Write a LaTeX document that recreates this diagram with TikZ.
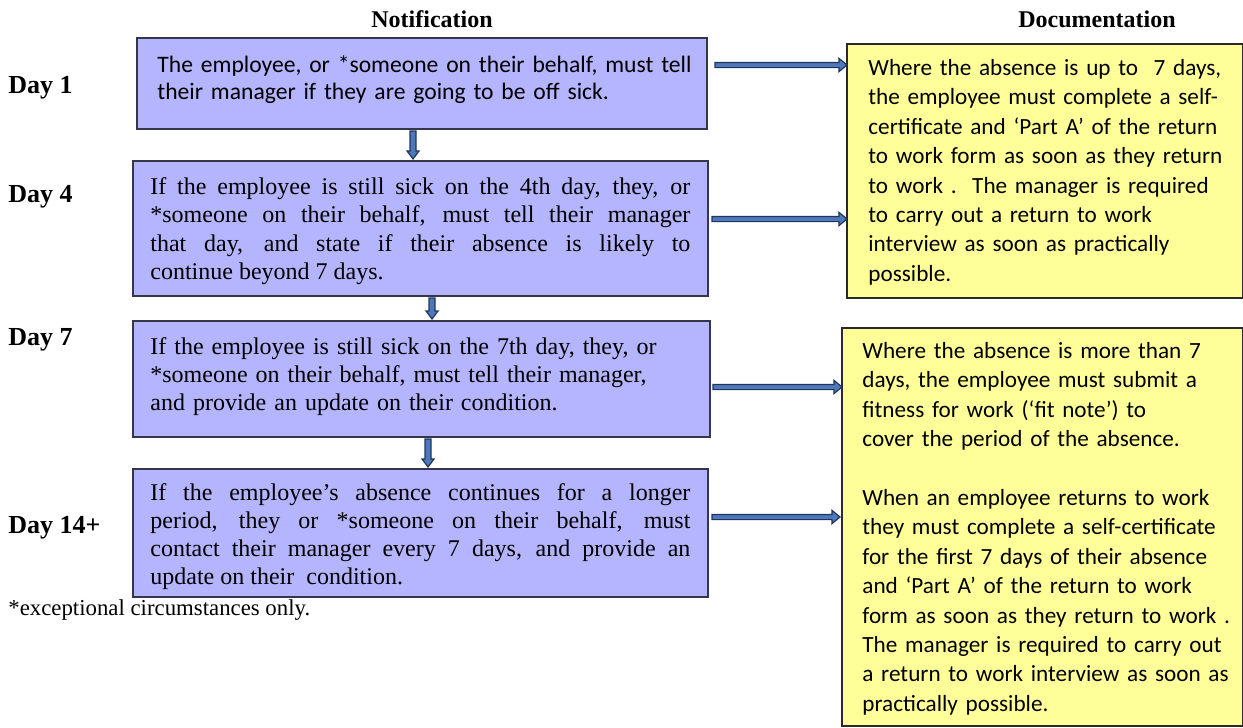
\documentclass[tikz,border=0pt]{standalone}
\usepackage{fontspec}
\setmainfont{Liberation Serif}
\newfontfamily\calibri{Carlito}
\usetikzlibrary{calc}

\definecolor{notefill}{HTML}{B4B4FF}
\definecolor{noteline}{HTML}{34364A}
\definecolor{docfill}{HTML}{FFFF99}
\definecolor{docline}{HTML}{2A2A2A}
\definecolor{arrowfill}{HTML}{4F78B8}
\definecolor{arrowline}{HTML}{1F3560}

\tikzset{
  notebox/.style={draw=noteline, line width=0.8pt, fill=notefill, anchor=north west,
    inner sep=0pt, outer sep=0pt},
  docbox/.style={draw=docline, line width=0.8pt, fill=docfill, anchor=north west,
    inner sep=0pt, outer sep=0pt},
  daylabel/.style={anchor=west, font=\fontsize{13}{15}\selectfont\bfseries, inner sep=0pt},
  heading/.style={font=\fontsize{12}{14}\selectfont\bfseries, inner sep=0pt},
  blockarrow/.style={draw=arrowline, fill=arrowfill, line width=0.6pt, line join=miter},
  doctext/.style={anchor=north west, inner sep=0pt, text width=250pt, align=left,
    font=\calibri\fontsize{11.6}{14.7}\selectfont},
}

% horizontal block arrow from #1 towards the x position of #2, at the height of #1
\newcommand\rightblock[2]{%
  \path let \p1=(#1), \p2=(#2) in [blockarrow]
    (\x1,\y1+1.3pt) -- (\x2-4pt,\y1+1.3pt) -- (\x2-4pt,\y1+3.3pt) -- (\x2,\y1)
    -- (\x2-4pt,\y1-3.3pt) -- (\x2-4pt,\y1-1.3pt) -- (\x1,\y1-1.3pt) -- cycle;}
% vertical block arrow from #1 down to the height of #2, at the x position of #1
\newcommand\downblock[2]{%
  \path let \p1=(#1), \p2=(#2) in [blockarrow]
    (\x1-1.5pt,\y1) -- (\x1-1.5pt,\y2+4pt) -- (\x1-3pt,\y2+4pt) -- (\x1,\y2)
    -- (\x1+3pt,\y2+4pt) -- (\x1+1.5pt,\y2+4pt) -- (\x1+1.5pt,\y1) -- cycle;}

\begin{document}
\begin{tikzpicture}[x=0.5pt,y=-0.5pt]
\useasboundingbox (0,0) rectangle (1243,728);

% column headings
\node[heading] (hnote) at (432,19) {Notification};
\node[heading] (hdoc) at (1097,19) {Documentation};

% day labels
\node[daylabel] (day1) at (8,88) {Day 1};
\node[daylabel] (day4) at (8,197) {Day 4};
\node[daylabel] (day7) at (8,340) {Day 7};
\node[daylabel] (day14) at (8,528) {Day 14+};

% notification steps
\node[notebox, minimum width=285pt, minimum height=45.5pt] (n1) at (137,38) {};
\node[anchor=north west, inner sep=0pt, text width=275pt, align=left,
  font=\calibri\fontsize{11.8}{13.6}\selectfont] (t1) at (157,55)
  {The employee, or *someone on their behalf, must tell\\
   their manager if they are going to be off sick.};

\node[notebox, minimum width=287.5pt, minimum height=67.5pt] (n2) at (133,161) {};
\node[anchor=north west, inner sep=0pt, text width=270pt, align=justify,
  font=\fontsize{12}{14.2}\selectfont] (t2) at (150,177)
  {If the employee is still sick on the 4th day, they, or\linebreak
   {*}someone on their behalf, must tell their manager\linebreak
   that day, and state if their absence is likely to\linebreak
   continue beyond 7 days.};

\node[notebox, minimum width=288.5pt, minimum height=58pt] (n3) at (133,321) {};
\node[anchor=north west, inner sep=0pt, text width=272pt, align=left,
  font=\fontsize{12}{14}\selectfont] (t3) at (150,337)
  {If the employee is still sick on the 7th day, they, or\\
   {*}someone on their behalf, must tell their manager,\\
   and provide an update on their condition.};

\node[notebox, minimum width=287.5pt, minimum height=64pt] (n4) at (133,469) {};
\node[anchor=north west, inner sep=0pt, text width=270pt, align=justify,
  font=\fontsize{12}{14.1}\selectfont] (t4) at (150,483)
  {If the employee’s absence continues for a longer\linebreak
   period, they or *someone on their behalf, must\linebreak
   contact their manager every 7 days, and provide an\linebreak
   update on their\ \ condition.};

\node[anchor=west, inner sep=0pt, font=\fontsize{11.4}{13.5}\selectfont] (foot) at (8,610)
  {*exceptional circumstances only.};

% documentation boxes
\node[docbox, minimum width=198pt, minimum height=127pt] (d1) at (847,44) {};
\node[doctext] (dt1) at (868,59)
  {Where the absence is up to\ \ 7 days,\\
   the employee must complete a self-\\
   certificate and ‘Part A’ of the return\\
   to work form as soon as they return\\
   to work .\ \ The manager is required\\
   to carry out a return to work\\
   interview as soon as practically\\
   possible.};

\node[docbox, minimum width=200.5pt, minimum height=199pt] (d2) at (842,328) {};
\node[doctext] (dt2) at (862,342)
  {Where the absence is more than 7\\
   days, the employee must submit a\\
   fitness for work (‘fit note’) to\\
   cover the period of the absence.\\[14.7pt]
   When an employee returns to work\\
   they must complete a self-certificate\\
   for the first 7 days of their absence\\
   and ‘Part A’ of the return to work\\
   form as soon as they return to work .\\
   The manager is required to carry out\\
   a return to work interview as soon as\\
   practically possible.};

% arrow start points
\coordinate (a1) at (715,65);
\coordinate (a2) at (712,219);
\coordinate (a3) at (713,387);
\coordinate (a4) at (712,517);

% arrows into the documentation column
\rightblock{a1}{d1.west}
\rightblock{a2}{d1.west}
\rightblock{a3}{d2.west}
\path let \p1=(d2.west) in coordinate (e4) at (\x1-1pt,0);
\rightblock{a4}{e4}

% arrows down the notification column
\coordinate (v1) at (413,131);
\coordinate (v2) at (432,298);
\coordinate (v3) at (428,439);
\downblock{v1}{[yshift=1pt]n2.north}
\downblock{v2}{[yshift=1pt]n3.north}
\downblock{v3}{[yshift=1pt]n4.north}
\end{tikzpicture}
\end{document}
